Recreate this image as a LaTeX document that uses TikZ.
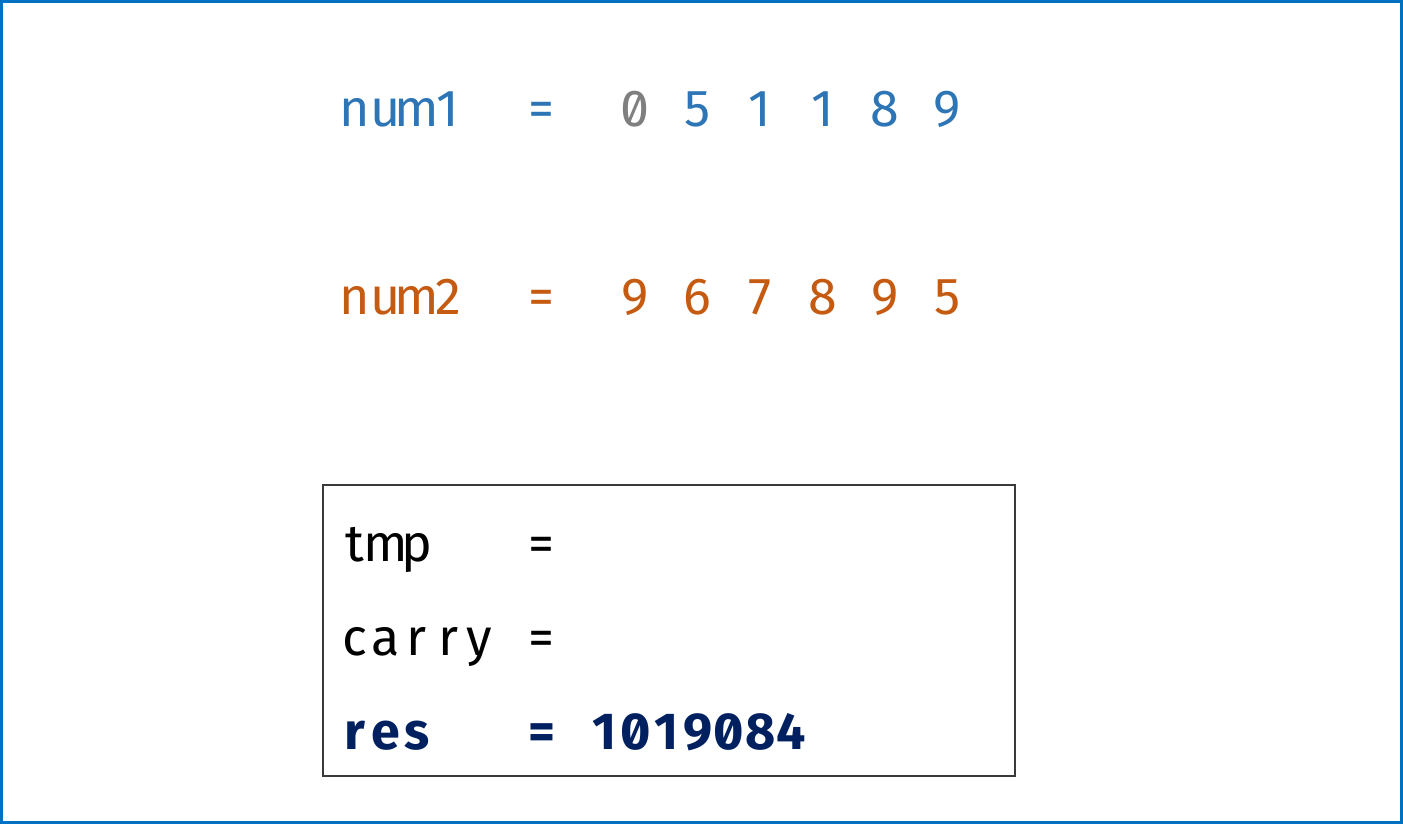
\documentclass[tikz,border=0pt]{standalone}
\usepackage{fontspec}
\setmainfont{Fira Sans}[Numbers={SlashedZero}]
\usepackage{tikz}
\usetikzlibrary{positioning,calc}
\usepackage{xcolor}

\definecolor{framec}{HTML}{0070C0}
\definecolor{numa}{HTML}{2E75B6}
\definecolor{numb}{HTML}{C55A11}
\definecolor{padc}{HTML}{7F7F7F}
\definecolor{resc}{HTML}{002060}
\definecolor{panelc}{HTML}{3A3A3A}

% one fixed cell per character, so the text sits on a mono grid
\newlength{\cellw}
\setlength{\cellw}{31.2pt}
\def\mono#1{\monoloop#1\relax}
\def\monoloop#1{\ifx#1\relax\else\makebox[\cellw][c]{#1}\expandafter\monoloop\fi}

\tikzset{
    cell/.style={anchor=base west, inner sep=0pt, outer sep=0pt,
                 font=\fontsize{52}{60}\selectfont},
    numrow/.style={cell, text=numa},
    numrowb/.style={cell, text=numb},
    calcrow/.style={cell, text=black},
    resrow/.style={cell, text=resc, font=\fontsize{52}{60}\selectfont\bfseries}
}

\begin{document}
\begin{tikzpicture}[x=1pt, y=-1pt]
    % Define grid origin and row baselines
    \pgfmathsetmacro{\xo}{339}
    \pgfmathsetmacro{\cw}{31.2}
    \useasboundingbox (0,0) rectangle (1403,824);

    % Outer frame
    \draw[framec, line width=3pt] (1.5,1.5) rectangle (1401.5,822.5);

    % First number
    \node[numrow] (numA) at (\xo,127) {\mono{num1}};
    \node[numrow] (eqA) at ({\xo+6*\cw},127) {\mono{=}};
    \foreach \d [count=\i from 0] in {0,5,1,1,8,9} {
        \ifnum\i=0
            \node[numrow, text=padc] (a\i) at ({\xo+(9+2*\i)*\cw},127) {\mono{\d}};
        \else
            \node[numrow] (a\i) at ({\xo+(9+2*\i)*\cw},127) {\mono{\d}};
        \fi
    }

    % Second number
    \node[numrowb] (numB) at (\xo,314) {\mono{num2}};
    \node[numrowb] (eqB) at ({\xo+6*\cw},314) {\mono{=}};
    \foreach \d [count=\i from 0] in {9,6,7,8,9,5} {
        \node[numrowb] (b\i) at ({\xo+(9+2*\i)*\cw},314) {\mono{\d}};
    }

    % Working box
    \node[draw=panelc, line width=1.5pt, minimum width=692pt, minimum height=291pt,
          inner sep=0pt, anchor=north west] (panel) at (322,484) {};

    \node[calcrow] (tmp) at (\xo,561) {\mono{tmp}};
    \node[calcrow] (eqT) at ({\xo+6*\cw},561) {\mono{=}};
    \node[calcrow] (carry) at (\xo,655) {\mono{carry}};
    \node[calcrow] (eqC) at ({\xo+6*\cw},655) {\mono{=}};
    \node[resrow] (res) at (\xo,749) {\mono{res}};
    \node[resrow] (eqR) at ({\xo+6*\cw},749) {\mono{=}};
    \node[resrow] (resval) at ({\xo+8*\cw},749) {\mono{1019084}};
\end{tikzpicture}
\end{document}
